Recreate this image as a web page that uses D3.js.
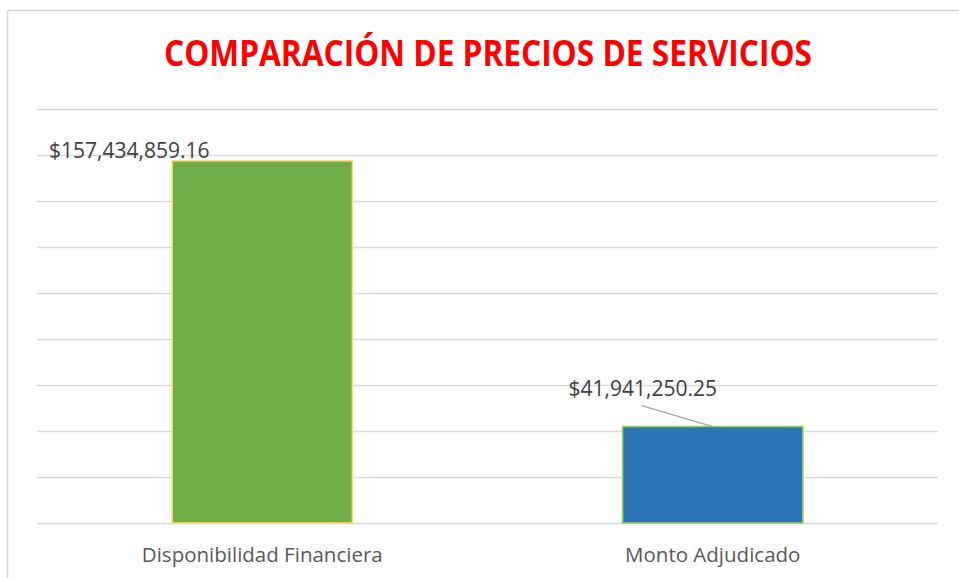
<!DOCTYPE html>
<html>
<head>
<meta charset="utf-8">
<title>Comparación de precios de servicios</title>
<script src="https://d3js.org/d3.v7.min.js"></script>
<style>
  body { margin: 0; background: #fff; }
  text { font-family: "Open Sans", "Liberation Sans", sans-serif; }
</style>
</head>
<body>
<div id="chart"></div>
<script>
// data
var categories = ["Disponibilidad Financiera", "Monto Adjudicado"];
var values = [157434859.16, 41941250.25];
var labels = ["$157,434,859.16", "$41,941,250.25"];
var yTicks = [0, 20e6, 40e6, 60e6, 80e6, 100e6, 120e6, 140e6, 160e6, 180e6];

var W = 959, H = 578;
var margin = {top: 109, right: 21, bottom: 55, left: 37};
var width = W - margin.left - margin.right,
    height = H - margin.top - margin.bottom;

var svg = d3.select("#chart").append("svg")
    .attr("width", W).attr("height", H);

// chart frame (right/bottom edges fall outside the picture)
svg.append("rect")
    .attr("x", 7.5).attr("y", 10.5)
    .attr("width", 970).attr("height", 600)
    .attr("fill", "none").attr("stroke", "#d9d9d9").attr("stroke-width", 1.5);

svg.append("text")
    .attr("x", 488).attr("y", 66)
    .attr("text-anchor", "middle")
    .attr("textLength", 648).attr("lengthAdjust", "spacingAndGlyphs")
    .style("font-size", "36px").style("font-weight", "bold")
    .attr("fill", "#ff0000")
    .text("COMPARACIÓN DE PRECIOS DE SERVICIOS");

var g = svg.append("g")
    .attr("transform", "translate(" + margin.left + "," + margin.top + ")");

var x = d3.scaleBand()
    .domain(categories)
    .range([0, width])
    .paddingInner(0.6)
    .paddingOuter(0.3);

var y = d3.scaleLinear()
    .domain([0, 180e6])
    .range([height, 0]);

// gridlines
g.append("g")
  .call(d3.axisLeft(y).tickValues(yTicks).tickSize(-width).tickFormat(""))
  .call(function(s) { s.select(".domain").remove(); })
  .selectAll("line")
    .attr("stroke", "#d9d9d9").attr("stroke-width", 1.5);

// x axis labels
g.append("g")
  .attr("transform", "translate(0," + height + ")")
  .call(d3.axisBottom(x).tickSize(0).tickPadding(24))
  .call(function(s) { s.select(".domain").remove(); })
  .selectAll("text")
    .style("font-size", "20.5px")
    .attr("fill", "#595959");

var fills = ["#70ad47", "#2e75b6"];
var strokes = ["#ffd966", "#92d050"];

g.selectAll(".bar")
  .data(values)
  .enter().append("rect")
    .attr("class", "bar")
    .attr("x", function(d, i) { return x(categories[i]); })
    .attr("y", function(d) { return y(d); })
    .attr("width", x.bandwidth())
    .attr("height", function(d) { return height - y(d); })
    .attr("fill", function(d, i) { return fills[i]; })
    .attr("stroke", function(d, i) { return strokes[i]; })
    .attr("stroke-width", 1.5);

// data labels (moved by hand in the original)
var labelDx = [-133, -70];
var labelDy = [-3, -31];

// leader line for the second label
var c2 = x(categories[1]) + x.bandwidth() / 2;
g.append("line")
    .attr("x1", c2 - 71).attr("y1", y(values[1]) - 21)
    .attr("x2", c2).attr("y2", y(values[1]))
    .attr("stroke", "#a6a6a6").attr("stroke-width", 1.3);

g.selectAll(".lbl")
  .data(values)
  .enter().append("text")
    .attr("class", "lbl")
    .attr("x", function(d, i) { return x(categories[i]) + x.bandwidth() / 2 + labelDx[i]; })
    .attr("y", function(d, i) { return y(d) + labelDy[i]; })
    .attr("text-anchor", "middle")
    .style("font-size", "21px")
    .attr("fill", "#404040")
    .text(function(d, i) { return labels[i]; });
</script>
</body>
</html>
